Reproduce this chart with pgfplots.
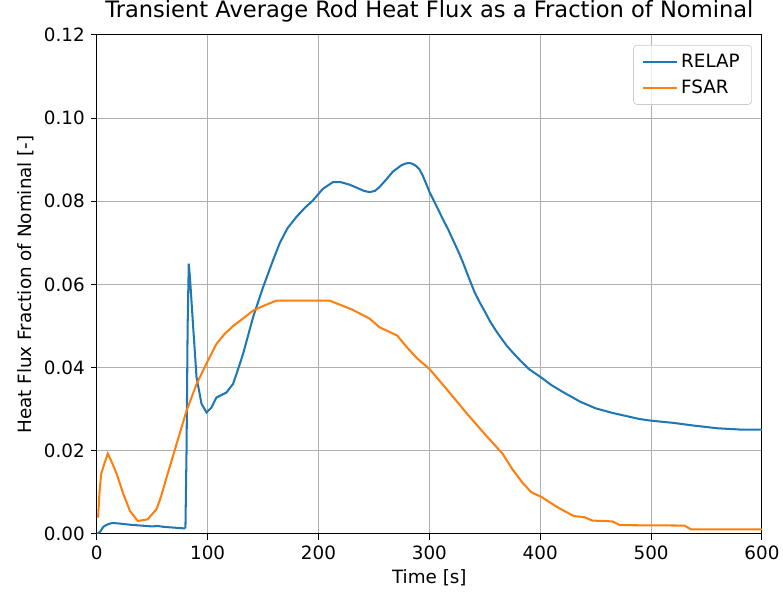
\documentclass[border=0pt]{standalone}
\usepackage{pgfplots}
\pgfplotsset{compat=1.18}
\usetikzlibrary{calc}
\usepackage{fontspec}
\setmainfont{DejaVu Sans}
\definecolor{c0}{HTML}{1F77B4}
\definecolor{c1}{HTML}{FF7F0E}
\begin{document}
\begin{tikzpicture}
\begin{axis}[
  scale only axis,
  width=392pt, height=294pt,
  xmin=0, xmax=600, ymin=0, ymax=0.12,
  xtick={0,100,...,600},
  ytick={0,0.02,...,0.12},
  yticklabel style={/pgf/number format/.cd, fixed, fixed zerofill, precision=2},
  scaled y ticks=false,
  /pgf/number format/assume math mode=true,
  tick align=outside, tick pos=left,
  major tick length=3.5pt,
  tick style={black, line width=0.6pt},
  grid=major,
  major grid style={color=black!31, line width=0.6pt},
  axis line style={black, line width=0.6pt},
  font=\fontsize{10.8pt}{13pt}\selectfont,
  title={Transient Average Rod Heat Flux as a Fraction of Nominal},
  title style={font=\fontsize{13.3pt}{15pt}\selectfont, yshift=-2pt},
  xlabel={Time [s]},
  ylabel={Heat Flux Fraction of Nominal [-]},
  xlabel style={yshift=1pt},
  ylabel style={yshift=-1pt},
  legend style={at={(0.985,0.98)}, anchor=north east, draw=black!20, rounded corners=2pt, fill=white, fill opacity=0.8, text opacity=1, font=\fontsize{10.8pt}{13pt}\selectfont, row sep=2pt, inner xsep=5pt, inner ysep=3pt},
  legend cell align=left,
  legend image code/.code={\draw[#1, line width=1.2pt] (0cm,0cm) -- (0.7cm,0cm);},
]
\addplot[c0, line width=1.2pt, smooth, tension=0.3] coordinates {
(0,0) (3,0.0005) (6,0.0017) (10,0.0023) (14,0.0026) (20,0.0025) (30,0.0022) (40,0.0020) (50,0.0018) (55,0.0019) (60,0.0017) (70,0.0015) (80,0.0013)
};
\addplot[c0, line width=1.2pt, forget plot] coordinates {
(80,0.0013) (81,0.02) (82,0.05) (83,0.065) (84,0.062) (87,0.0497) (90,0.0377) (94.5,0.0313) (99,0.0292) (103.5,0.0304) (108,0.0328) (117,0.034) (123,0.0361) (128,0.040) (132,0.0433) (141,0.0521) (150,0.0593) (159,0.0658) (165,0.0699) (172,0.0735) (180,0.0762) (188,0.0785) (195,0.0802) (204,0.0830) (213,0.0846) (220,0.0846) (228,0.0840) (235,0.0832) (241,0.0825) (246,0.0822) (251,0.0825) (255,0.0834) (261,0.0852) (267,0.0871) (275,0.0887) (279,0.0891) (282,0.0892) (285,0.0890) (288,0.0885) (291,0.0877) (294,0.0862) (297,0.0843) (300,0.0823) (303,0.0807) (308,0.0780) (312,0.0758) (317,0.0732) (321.5,0.0706) (326,0.0680) (330,0.0655) (336.5,0.061) (341,0.0580) (346,0.0554) (350,0.0535) (355,0.0510) (360,0.0489) (365,0.0470) (370,0.0452) (375,0.0437) (382,0.0417) (390,0.0396) (401,0.0376) (410,0.0358) (420,0.0342) (428,0.0330) (436,0.0318) (450,0.0302) (465,0.0291) (480,0.0282) (490,0.0276) (501,0.0272) (520,0.0267) (540,0.0260) (560,0.0254) (580,0.0251) (600,0.0251)
};
\addlegendentry{RELAP}
\addplot[c1, line width=1.2pt] coordinates {
(1.2,0.0039) (2.5,0.010) (4,0.0144) (7,0.0170) (10,0.0193) (14,0.0170) (18,0.0144) (24,0.0096) (30,0.0055) (37,0.0031) (46,0.0035) (54,0.006) (58,0.0090) (63,0.0136) (72,0.0216) (81,0.0296) (90,0.036) (99,0.041) (108,0.0457) (115,0.0480) (123,0.050) (132,0.0518) (141,0.0537) (150,0.0548) (162,0.0561) (210,0.0561) (230,0.054) (246,0.0518) (255,0.0497) (271,0.0477) (280,0.0448) (289,0.0422) (300,0.0397) (315,0.035) (334,0.0289) (350,0.024) (366,0.0193) (375,0.0155) (384,0.0123) (392,0.0100) (401,0.0089) (415,0.0065) (430,0.0043) (440,0.0040) (447,0.0032) (465,0.0030) (472,0.0021) (530,0.0020) (536,0.0011) (600,0.0011)
};
\addlegendentry{FSAR}
\coordinate (sw) at (rel axis cs:0,0);
\coordinate (ne) at (rel axis cs:1,1);
\end{axis}
\pgfresetboundingbox
\path ($(sw)+(-57pt,-38.3pt)$) rectangle ($(ne)+(12.4pt,20.6pt)$);
\end{tikzpicture}
\end{document}
